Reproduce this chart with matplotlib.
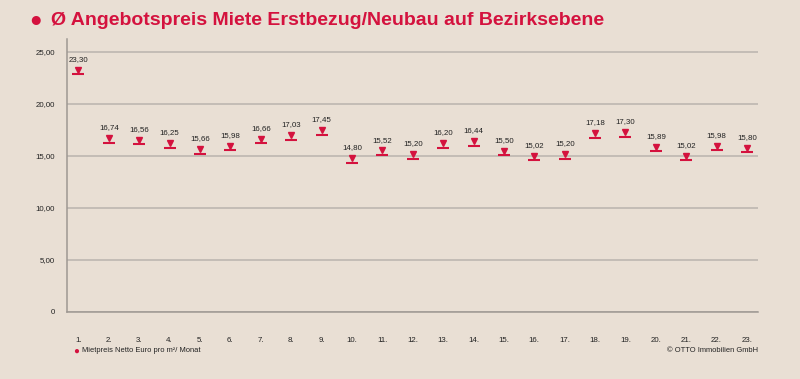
import matplotlib
matplotlib.use('Agg')
import matplotlib.pyplot as plt
import matplotlib.transforms as mtransforms

# Data
districts = [f"{i}." for i in range(1, 24)]
prices = [23.30, 16.74, 16.56, 16.25, 15.66, 15.98, 16.66, 17.03, 17.45, 14.80,
          15.52, 15.20, 16.20, 16.44, 15.50, 15.02, 15.20, 17.18, 17.30, 15.89,
          15.02, 15.98, 15.80]
y_ticks = [0, 5, 10, 15, 20, 25]
y_labels = ["0", "5,00", "10,00", "15,00", "20,00", "25,00"]

BG = '#E9DFD4'
RED = '#D4123E'
GRID = '#B9B3AD'
TXT = '#222222'

plt.rcParams['font.family'] = ['Liberation Sans', 'DejaVu Sans']

fig = plt.figure(figsize=(8, 3.79), dpi=100, facecolor=BG)
ax = fig.add_axes([0.084, 0.177, 0.8635, 0.719])
ax.set_facecolor(BG)

x = list(range(1, len(prices) + 1))

# underline below each marker, shifted a few points down
line_off = mtransforms.offset_copy(ax.transData, fig=fig, x=0, y=-3.4, units='points')
ax.plot(x, prices, linestyle='none', marker='_', markersize=9, markeredgewidth=1.5,
        color=RED, transform=line_off, zorder=3)
ax.plot(x, prices, linestyle='none', marker='v', markersize=4.6, color=RED, zorder=4)

for xi, v in zip(x, prices):
    ax.annotate(f"{v:.2f}".replace('.', ','), (xi, v), xytext=(0, 5), textcoords='offset points',
                ha='center', va='bottom', fontsize=5.7, color=TXT)

ax.set_xlim(0.63, 23.36)
ax.set_ylim(0, 26.2)
ax.set_yticks(y_ticks)
ax.set_yticklabels(y_labels, fontsize=5.7, color=TXT)
ax.set_xticks(x)
ax.set_xticklabels(districts, fontsize=5.7, color=TXT)
ax.tick_params(axis='both', length=0)
ax.tick_params(axis='x', pad=18)
ax.tick_params(axis='y', pad=9)

ax.grid(axis='y', color=GRID, linewidth=1.1)
ax.set_axisbelow(True)
for s in ['top', 'right']:
    ax.spines[s].set_visible(False)
for s in ['left', 'bottom']:
    ax.spines[s].set_color('#9E9892')
    ax.spines[s].set_linewidth(1.1)

# title
fig.text(0.045, 0.947, "\u25CF", color=RED, fontsize=15, ha='center', va='center')
fig.text(0.064, 0.947, "Ø Angebotspreis Miete Erstbezug/Neubau auf Bezirksebene",
         color=RED, fontsize=14, fontweight='bold', ha='left', va='center')

# legend and source
fig.text(0.0955, 0.074, "\u25CF", color=RED, fontsize=7, ha='center', va='center')
fig.text(0.103, 0.074, "Mietpreis Netto Euro pro m²/ Monat", color=TXT, fontsize=5.4,
         ha='left', va='center')
fig.text(0.947, 0.074, "© OTTO Immobilien GmbH", color=TXT, fontsize=5.4,
         ha='right', va='center')

fig.savefig('out.png', dpi=100, facecolor=BG)
